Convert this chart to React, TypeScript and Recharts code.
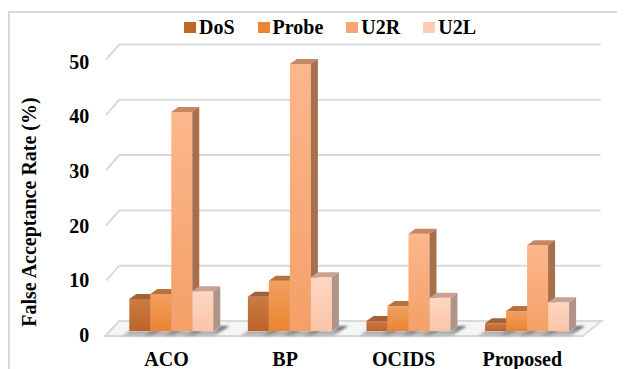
import { BarChart, Bar, XAxis, YAxis, CartesianGrid, Legend } from 'recharts';

// --- data ---
const categories = ['ACO', 'BP', 'OCIDS', 'Proposed'];
const dosValues = [5.8, 6.2, 1.8, 1.4];
const probeValues = [6.7, 9.1, 4.5, 3.6];
const u2rValues = [39.6, 48.3, 17.6, 15.5];
const u2lValues = [7.2, 9.7, 6.0, 5.2];
const yTicks = [0, 10, 20, 30, 40, 50];

const FONT = '"Liberation Serif", "Times New Roman", serif';

// colours for each attack type: front gradient, top face, side face, legend swatch
const series = [
  { key: 'DoS', values: dosValues, front: ['#CA7B44', '#BD6328'], top: '#A3613A', side: '#A5602F', swatch: '#C0672C' },
  { key: 'Probe', values: probeValues, front: ['#F1A060', '#EA8430'], top: '#B9713F', side: '#C0713A', swatch: '#EC8633' },
  { key: 'U2R', values: u2rValues, front: ['#FCB78C', '#F4A068'], top: '#C48862', side: '#A86F4D', swatch: '#F6A672' },
  { key: 'U2L', values: u2lValues, front: ['#FDD7C1', '#FAC5A7'], top: '#C9A291', side: '#B0948A', swatch: '#FCCDB2' },
];

const data = categories.map((name, i) => {
  const row: Record<string, string | number> = { name };
  series.forEach(s => { row[s.key] = s.values[i]; });
  return row;
});

const W = 617;
const H = 361;
const MARGIN = { top: 46.5, right: 38.4, bottom: 8, left: 44.2 };
const XAXIS_H = 30;
const PLOT_BOTTOM = H - MARGIN.bottom - XAXIS_H;
const PLOT_H = PLOT_BOTTOM - MARGIN.top;

// fake 3D depth of each bar
const DX = 7;
const DY = 5;

const makeBar3D = (s: typeof series[number]) => (props: any) => {
  const { x, y, width: w, height: h } = props;
  if (h == null || w == null) return <g />;
  const base = y + h;
  return (
    <g>
      <polygon
        points={`${x - 8},${base + 5} ${x + w + 2},${base + 5} ${x + w + DX + 9},${base - DY} ${x + w + DX},${base - DY} ${x + w},${base} ${x},${base}`}
        fill="url(#floorShadow)"
        filter="url(#softShadow)"
      />
      <rect x={x} y={y} width={w} height={h} fill={`url(#front-${s.key})`} />
      <polygon points={`${x},${y} ${x + DX},${y - DY} ${x + w + DX},${y - DY} ${x + w},${y}`} fill={s.top} />
      <polygon points={`${x + w},${y} ${x + w + DX},${y - DY} ${x + w + DX},${base - DY} ${x + w},${base}`} fill={s.side} />
    </g>
  );
};

// back-wall gridlines with a slanted left return; the zero line becomes the floor
const renderGridLine = (props: any) => {
  const { x1, x2, y1, key } = props;
  if (Math.abs(y1 - PLOT_BOTTOM) < 1) {
    return (
      <polygon
        key={key}
        points={`${x1 - 7},${y1 + 5} ${x2 - 4},${y1 + 5} ${x2 + 15},${y1 - 10} ${x1 + 7},${y1 - 10}`}
        fill="#f5f5f5"
        stroke="#d9d9d9"
        strokeWidth={2}
      />
    );
  }
  return (
    <polyline
      key={key}
      points={`${x1 - 6},${y1 + 5} ${x1 + 7},${y1 - 10} ${x2 + 14},${y1 - 10}`}
      fill="none"
      stroke="#d9d9d9"
      strokeWidth={2}
    />
  );
};

// labels sit a little lower toward the top because of the perspective
const ValueTick = ({ x, y, payload }: any) => (
  <text
    x={x}
    y={y + 11 + (3 * (PLOT_BOTTOM - y)) / PLOT_H}
    textAnchor="end"
    fontFamily={FONT}
    fontWeight="bold"
    fontSize={20}
    fill="#000"
  >
    {payload.value}
  </text>
);

const CategoryTick = ({ x, y, payload }: any) => (
  <text x={x - 5} y={y + 35} textAnchor="middle" fontFamily={FONT} fontWeight="bold" fontSize={20} fill="#000">
    {payload.value}
  </text>
);

const renderLegend = () => (
  <div style={{ display: 'flex', alignItems: 'center', fontFamily: FONT, fontWeight: 'bold', fontSize: 20, lineHeight: '20px', color: '#000' }}>
    {series.map(s => (
      <div key={s.key} style={{ display: 'flex', alignItems: 'center', marginRight: 23 }}>
        <span style={{ display: 'inline-block', width: 12, height: 11, background: s.swatch, marginRight: 3 }} />
        <span>{s.key}</span>
      </div>
    ))}
  </div>
);

export default function App() {
  return (
    <div style={{ position: 'relative', width: W, height: H, overflow: 'hidden', background: '#fff' }}>
      <div style={{ position: 'absolute', left: 0, top: 3, width: 700, height: 500, border: '2px solid #dadada' }} />
      <div
        style={{
          position: 'absolute',
          left: 21,
          top: 204,
          transform: 'translate(-50%, -50%) rotate(-90deg)',
          whiteSpace: 'nowrap',
          fontFamily: FONT,
          fontWeight: 'bold',
          fontSize: 20,
          lineHeight: '20px',
        }}
      >
        False Acceptance Rate (%)
      </div>
      <div style={{ position: 'absolute', left: 0, top: 0 }}>
        <BarChart width={W} height={H} data={data} margin={MARGIN} barCategoryGap="14.4%" barGap={0}>
          <defs>
            {series.map(s => (
              <linearGradient key={s.key} id={`front-${s.key}`} x1="0" y1="0" x2="0" y2="1">
                <stop offset="0%" stopColor={s.front[0]} />
                <stop offset="100%" stopColor={s.front[1]} />
              </linearGradient>
            ))}
            <linearGradient id="floorShadow" x1="0" y1="0" x2="0" y2="1">
              <stop offset="0%" stopColor="#4a4a4a" stopOpacity={0.85} />
              <stop offset="100%" stopColor="#9a9a9a" stopOpacity={0.5} />
            </linearGradient>
            <filter id="softShadow" x="-20%" y="-50%" width="140%" height="200%">
              <feGaussianBlur stdDeviation="0.8" />
            </filter>
          </defs>
          <CartesianGrid vertical={false} horizontal={renderGridLine} />
          <XAxis
            dataKey="name"
            height={XAXIS_H}
            axisLine={false}
            tickLine={false}
            tickSize={0}
            tickMargin={0}
            tick={<CategoryTick />}
            interval={0}
          />
          <YAxis
            width={60}
            domain={[0, 50]}
            ticks={yTicks}
            axisLine={false}
            tickLine={false}
            tickSize={0}
            tickMargin={23}
            tick={<ValueTick />}
          />
          <Legend
            layout="horizontal"
            verticalAlign="middle"
            align="center"
            content={renderLegend}
            wrapperStyle={{ top: 9, left: 176, width: 'auto' }}
          />
          {series.map(s => (
            <Bar key={s.key} dataKey={s.key} fill={s.swatch} shape={makeBar3D(s)} isAnimationActive={false} />
          ))}
        </BarChart>
      </div>
    </div>
  );
}
